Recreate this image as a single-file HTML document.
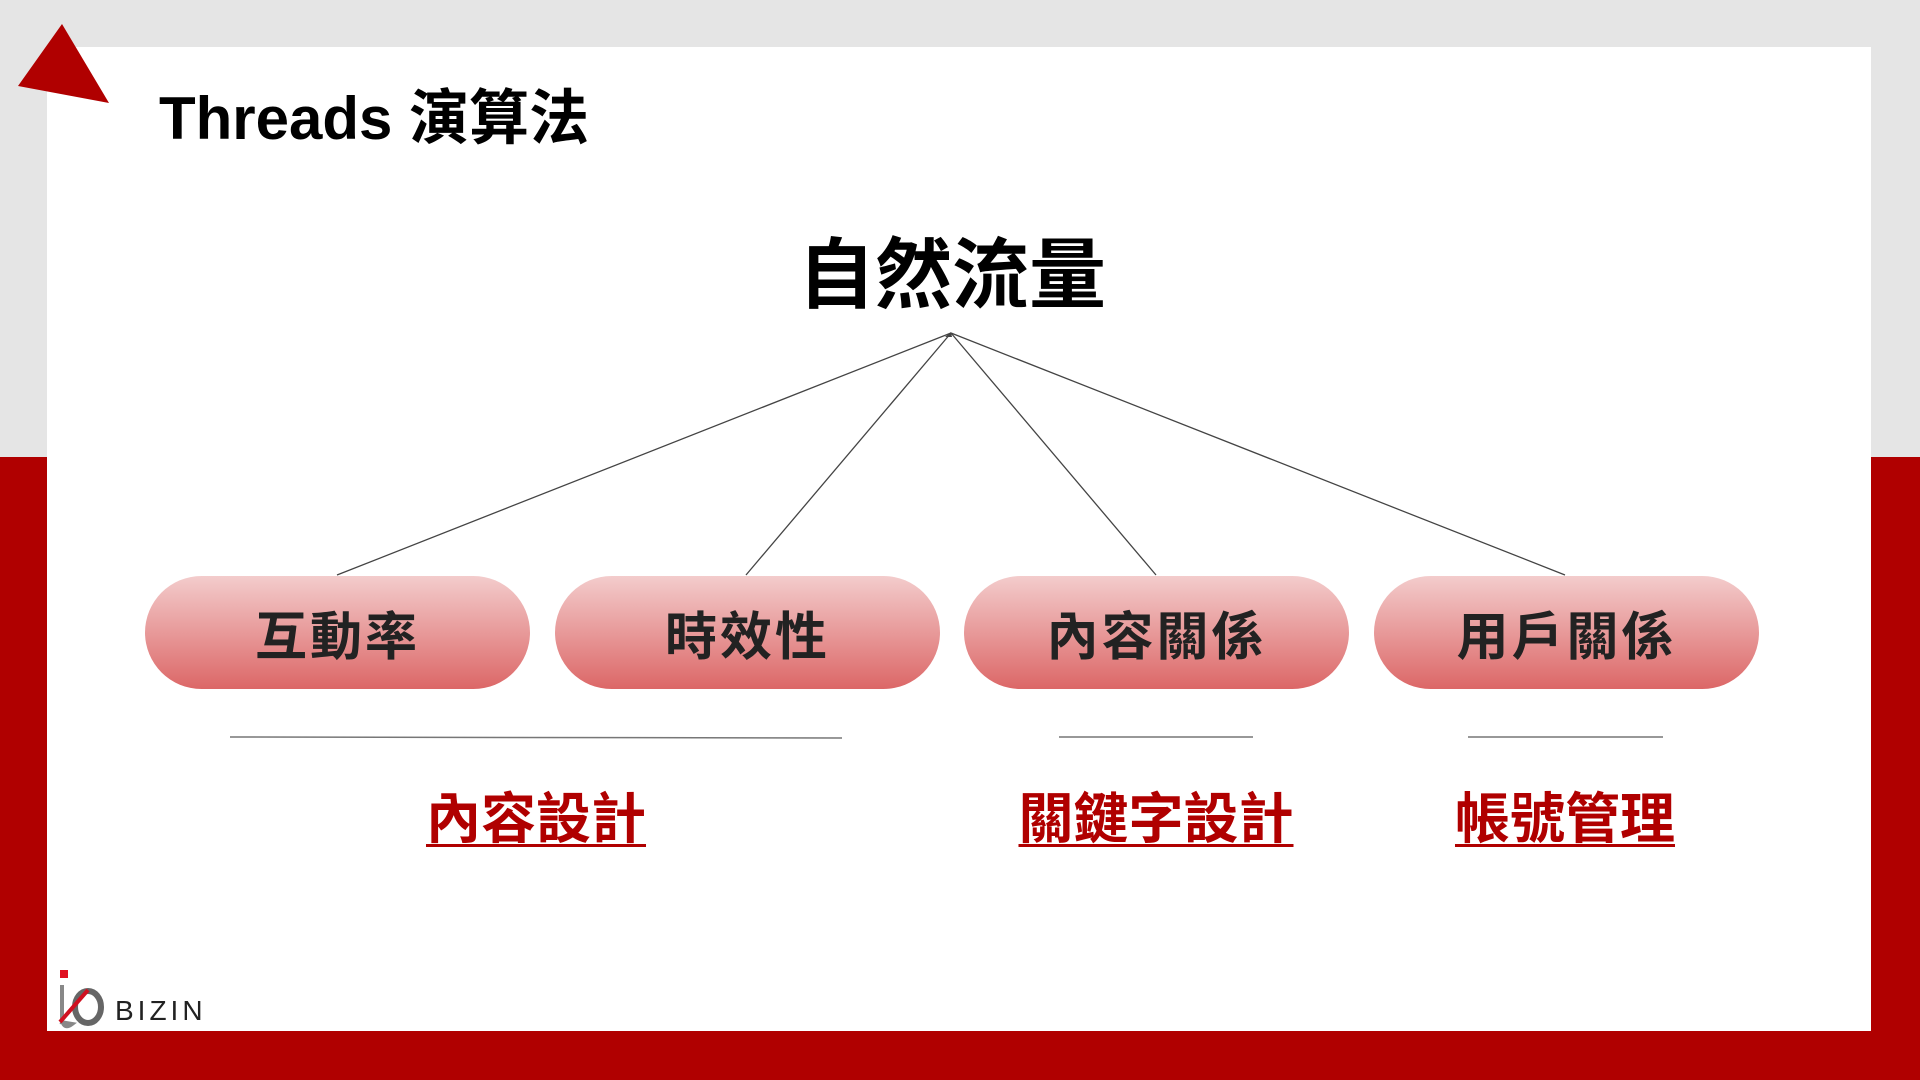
<!DOCTYPE html>
<html><head><meta charset="utf-8"><style>
body{margin:0;width:1920px;height:1080px;position:relative;overflow:hidden;background:#b00000;font-family:"Liberation Sans","Noto Sans CJK TC",sans-serif}
.gray{position:absolute;left:0;top:0;width:1920px;height:457px;background:#e5e5e5}
.panel{position:absolute;left:47px;top:47px;width:1824px;height:984px;background:#fff}
.t{position:absolute;white-space:nowrap}
.pill{position:absolute;top:576px;width:385px;height:113px;border-radius:57px;background:linear-gradient(#f3cccc,#dc6767);display:flex;align-items:center;justify-content:center;font-weight:bold;font-size:52px;color:#222;letter-spacing:3px}
.lk{position:absolute;top:774px;font-weight:bold;font-size:55px;color:#b00000;text-decoration:underline;text-decoration-thickness:3px;text-underline-offset:6px;transform:translateX(-50%);white-space:nowrap}
</style></head><body>
<div class="gray"></div>
<div class="panel"></div>
<svg width="1920" height="1080" style="position:absolute;left:0;top:0">
<polygon points="62,24 18,86 109,103" fill="#b00000"/>
<g stroke="#444" stroke-width="1.3">
<line x1="951" y1="333" x2="337" y2="575"/>
<line x1="951" y1="333" x2="746" y2="575"/>
<line x1="951" y1="333" x2="1156" y2="575"/>
<line x1="951" y1="333" x2="1565" y2="575"/>
</g>
<polygon points="951,332 945,337 952,337" fill="#444"/>
<g stroke="#777" stroke-width="1.5">
<line x1="230" y1="737" x2="842" y2="738"/>
<line x1="1059" y1="737" x2="1253" y2="737"/>
<line x1="1468" y1="737" x2="1663" y2="737"/>
</g>
<rect x="60" y="970" width="8" height="8" fill="#e01020"/>
<path d="M62 985 L62 1020 Q64 1030 72 1024 L60 1022" stroke="#888" stroke-width="4" fill="none"/>
<ellipse cx="88" cy="1007" rx="13" ry="16" stroke="#666" stroke-width="6" fill="none"/>
<path d="M88 990 L60 1022" stroke="#d01020" stroke-width="4"/>
<text x="115" y="1020" font-family="Liberation Sans,sans-serif" font-size="28" fill="#222" letter-spacing="4">BIZIN</text>
</svg>
<div class="t" style="left:159px;top:70px;font-size:60px;font-weight:bold;color:#000">Threads 演算法</div>
<div class="t" style="left:798px;top:214px;font-size:77px;font-weight:bold;color:#000">自然流量</div>
<div class="pill" style="left:145px">互動率</div>
<div class="pill" style="left:555px">時效性</div>
<div class="pill" style="left:964px">內容關係</div>
<div class="pill" style="left:1374px">用戶關係</div>
<div class="lk" style="left:536px">內容設計</div>
<div class="lk" style="left:1156px">關鍵字設計</div>
<div class="lk" style="left:1565px">帳號管理</div>
</body></html>
